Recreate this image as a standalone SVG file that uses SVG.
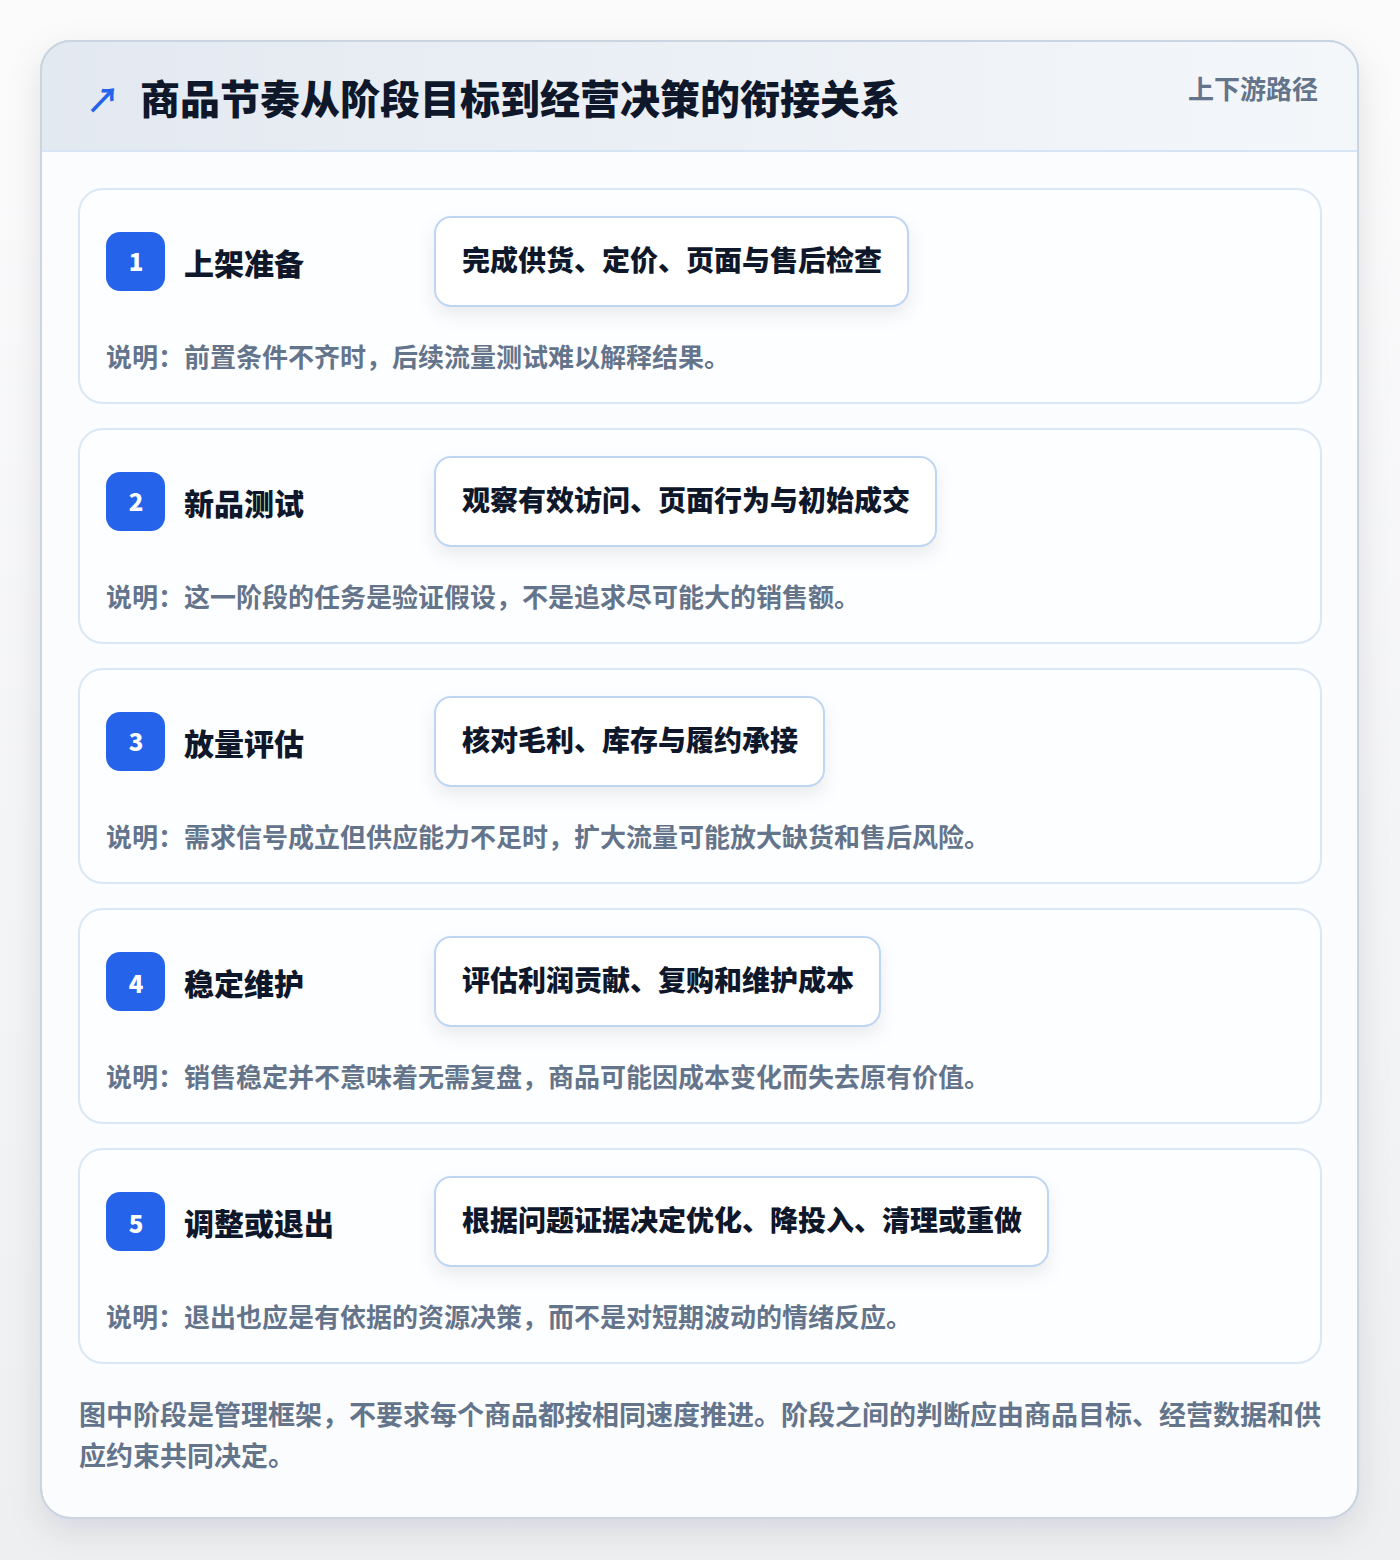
<svg xmlns="http://www.w3.org/2000/svg" width="1400" height="1560" viewBox="0 0 1400 1560">
<defs>
<linearGradient id="bg" x1="0" y1="0" x2="0" y2="1"><stop offset="0" stop-color="#fbfbfc"/><stop offset="1" stop-color="#eeeff1"/></linearGradient>
<linearGradient id="hdr" x1="0" y1="0" x2="1" y2="0"><stop offset="0" stop-color="#e3e9f1"/><stop offset="1" stop-color="#f4f7fa"/></linearGradient>
<clipPath id="cardClip"><rect x="41" y="41" width="1317" height="1477" rx="30"/></clipPath>
<filter id="cardShadow" x="-10%" y="-10%" width="120%" height="120%"><feDropShadow dx="0" dy="12" stdDeviation="16" flood-color="#0f172a" flood-opacity="0.10"/></filter>
<filter id="pillShadow" x="-20%" y="-40%" width="140%" height="200%"><feDropShadow dx="0" dy="8" stdDeviation="9" flood-color="#0f172a" flood-opacity="0.08"/></filter>
</defs>
<style>
.cjk{font-family:"Noto Sans CJK SC","Noto Sans",sans-serif;font-weight:700}
.heavy{font-weight:800}
.stage{fill:#fdfeff;stroke:#dbe7f7;stroke-width:2}
.badge{fill:#2563eb}
.num{fill:#ffffff;font-size:24px;text-anchor:middle;font-weight:800}
.stitle{fill:#0f172a;font-size:30px;font-weight:800}
.pill{fill:#ffffff;stroke:#bfd6f3;stroke-width:2;filter:url(#pillShadow)}
.ptext{fill:#0f172a;font-size:28px;font-weight:800}
.desc{fill:#64748b;font-size:26px}
</style>
<rect width="1400" height="1560" fill="url(#bg)"/>
<g id="card">
<rect x="41" y="41" width="1317" height="1477" rx="30" fill="#fbfcfe" stroke="#cbd5e1" stroke-width="2" filter="url(#cardShadow)"/>
<g clip-path="url(#cardClip)">
<rect x="41" y="41" width="1317" height="110" fill="url(#hdr)"/>
<line x1="41" y1="151" x2="1358" y2="151" stroke="#d6e4f5" stroke-width="2"/>
</g>
<rect x="41" y="41" width="1317" height="1477" rx="30" fill="none" stroke="#cbd5e1" stroke-width="2"/>
</g>
<g id="header">
<text class="cjk" x="86" y="113" font-size="34" fill="#2563eb">↗</text>
<text class="cjk heavy" x="140" y="114" font-size="40" fill="#0f172a">商品节奏从阶段目标到经营决策的衔接关系</text>
<text class="cjk" x="1318" y="99" font-size="26" fill="#64748b" text-anchor="end">上下游路径</text>
</g>
<g id="stage1">
<rect class="stage" x="79" y="189" width="1242" height="214" rx="24"/>
<rect class="badge" x="106" y="232" width="59" height="59" rx="14"/>
<text class="cjk num" x="136" y="271">1</text>
<text class="cjk stitle" x="184" y="275">上架准备</text>
<rect class="pill" x="435" y="217" width="473" height="89" rx="16"/>
<text class="cjk ptext" x="462" y="271">完成供货、定价、页面与售后检查</text>
<text class="cjk desc" x="106" y="367">说明：前置条件不齐时，后续流量测试难以解释结果。</text>
</g>
<g id="stage2">
<rect class="stage" x="79" y="429" width="1242" height="214" rx="24"/>
<rect class="badge" x="106" y="472" width="59" height="59" rx="14"/>
<text class="cjk num" x="136" y="511">2</text>
<text class="cjk stitle" x="184" y="515">新品测试</text>
<rect class="pill" x="435" y="457" width="501" height="89" rx="16"/>
<text class="cjk ptext" x="462" y="511">观察有效访问、页面行为与初始成交</text>
<text class="cjk desc" x="106" y="607">说明：这一阶段的任务是验证假设，不是追求尽可能大的销售额。</text>
</g>
<g id="stage3">
<rect class="stage" x="79" y="669" width="1242" height="214" rx="24"/>
<rect class="badge" x="106" y="712" width="59" height="59" rx="14"/>
<text class="cjk num" x="136" y="751">3</text>
<text class="cjk stitle" x="184" y="755">放量评估</text>
<rect class="pill" x="435" y="697" width="389" height="89" rx="16"/>
<text class="cjk ptext" x="462" y="751">核对毛利、库存与履约承接</text>
<text class="cjk desc" x="106" y="847">说明：需求信号成立但供应能力不足时，扩大流量可能放大缺货和售后风险。</text>
</g>
<g id="stage4">
<rect class="stage" x="79" y="909" width="1242" height="214" rx="24"/>
<rect class="badge" x="106" y="952" width="59" height="59" rx="14"/>
<text class="cjk num" x="136" y="993">4</text>
<text class="cjk stitle" x="184" y="995">稳定维护</text>
<rect class="pill" x="435" y="937" width="445" height="89" rx="16"/>
<text class="cjk ptext" x="462" y="991">评估利润贡献、复购和维护成本</text>
<text class="cjk desc" x="106" y="1087">说明：销售稳定并不意味着无需复盘，商品可能因成本变化而失去原有价值。</text>
</g>
<g id="stage5">
<rect class="stage" x="79" y="1149" width="1242" height="214" rx="24"/>
<rect class="badge" x="106" y="1192" width="59" height="59" rx="14"/>
<text class="cjk num" x="136" y="1233">5</text>
<text class="cjk stitle" x="184" y="1235">调整或退出</text>
<rect class="pill" x="435" y="1177" width="613" height="89" rx="16"/>
<text class="cjk ptext" x="462" y="1231">根据问题证据决定优化、降投入、清理或重做</text>
<text class="cjk desc" x="106" y="1327">说明：退出也应是有依据的资源决策，而不是对短期波动的情绪反应。</text>
</g>
<g id="footer">
<text class="cjk" x="79" y="1425" font-size="27" fill="#64748b">图中阶段是管理框架，不要求每个商品都按相同速度推进。阶段之间的判断应由商品目标、经营数据和供</text>
<text class="cjk" x="79" y="1466" font-size="27" fill="#64748b">应约束共同决定。</text>
</g>
<g id="connectors"></g>
</svg>
